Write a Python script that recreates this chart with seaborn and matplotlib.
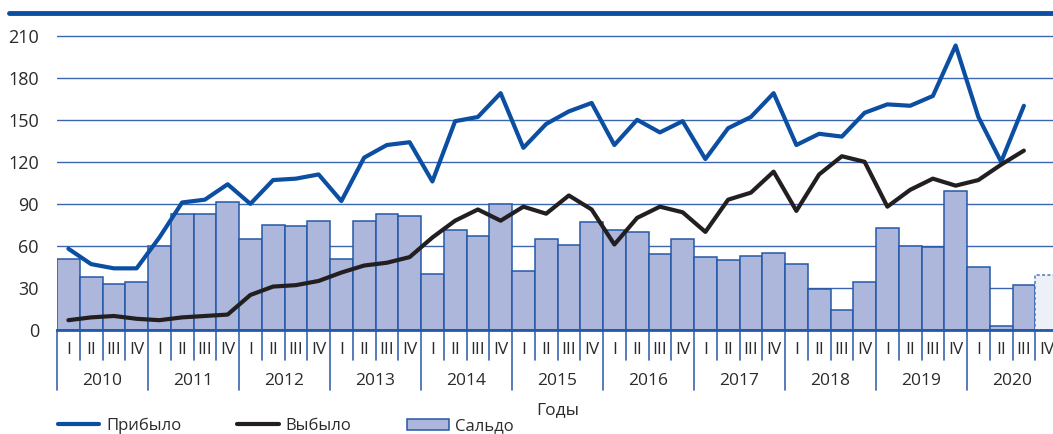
import matplotlib
matplotlib.use("Agg")
import matplotlib.pyplot as plt
import seaborn as sns
import pandas as pd
from matplotlib.lines import Line2D
from matplotlib.patches import Patch

# Quarterly data, 2010 Q1 .. 2020 Q4
years = [2010, 2011, 2012, 2013, 2014, 2015, 2016, 2017, 2018, 2019, 2020]
quarters = ["I", "II", "III", "IV"]

arrived = [58, 47, 44, 44, 66, 91, 93, 104, 90, 107, 108, 111,
           92, 123, 132, 134, 106, 149, 152, 169, 130, 147, 156, 162,
           132, 150, 141, 149, 122, 144, 152, 169, 132, 140, 138, 155,
           161, 160, 167, 203, 152, 120, 160]
departed = [7, 9, 10, 8, 7, 9, 10, 11, 25, 31, 32, 35,
            41, 46, 48, 52, 66, 78, 86, 78, 88, 83, 96, 86,
            61, 80, 88, 84, 70, 93, 98, 113, 85, 111, 124, 120,
            88, 100, 108, 103, 107, 118, 128]
balance = [51, 38, 33, 34, 60, 83, 83, 91, 65, 75, 74, 78,
           51, 78, 83, 81, 40, 71, 67, 90, 42, 65, 61, 77,
           71, 70, 54, 65, 52, 50, 53, 55, 47, 29, 14, 34,
           73, 60, 59, 99, 45, 3, 32, 39]

BLUE = "#0c4ea2"
GRID = "#3a66b0"
BAR = "#adb7dc"
EDGE = "#2458a8"
TEXT = "#2b2b2b"

sns.set_style("white")
plt.rcParams['font.family'] = ['Open Sans', 'DejaVu Sans']

W, H = 1053, 434
fig = plt.figure(figsize=(W / 100, H / 100), dpi=100)
ax = fig.add_axes([57 / W, 104 / H, 1001 / W, 295 / H])

labels = [f"{y} {q}" for y in years for q in quarters]
df_bar = pd.DataFrame({"q": labels, "v": balance})
sns.barplot(data=df_bar, x="q", y="v", width=1.0, color=BAR, saturation=1,
            edgecolor=EDGE, linewidth=1.1, ax=ax, zorder=2)
# last quarter: preliminary estimate
last = ax.patches[-1]
last.set_facecolor("#eef0f8")
last.set_edgecolor("#4a78bf")
last.set_linestyle((0, (2, 1.5)))

sns.lineplot(x=list(range(len(arrived))), y=arrived, color=BLUE, lw=3,
             ax=ax, zorder=4)
sns.lineplot(x=list(range(len(departed))), y=departed, color="#231f20", lw=3,
             ax=ax, zorder=4)

ax.set_xlim(-0.5, len(balance) - 0.5)
ax.set_ylim(0, 210.5)
ax.set_yticks(range(0, 211, 30))
ax.yaxis.grid(True, color=GRID, lw=1)
ax.set_axisbelow(True)
ax.set_xticks([])
ax.set_xlabel("")
ax.set_ylabel("")
ax.tick_params(axis="y", length=0, pad=13, labelsize=13, labelcolor=TEXT)
for s in ["left", "right", "top"]:
    ax.spines[s].set_visible(False)
ax.spines["bottom"].set_color(EDGE)
ax.spines["bottom"].set_linewidth(2)
ax.spines["bottom"].set_zorder(5)

# quarter / year axis
tr = ax.get_xaxis_transform()
for k in range(len(balance) + 1):
    low = -0.205 if k % 4 == 0 else -0.102
    ax.plot([k - 0.5, k - 0.5], [0, low], transform=tr, color=GRID,
            lw=1.2, clip_on=False)
for i, lab in enumerate(labels):
    ax.text(i, -0.068, lab.split()[1], transform=tr, ha="center", va="center",
            fontsize=12.5, color=TEXT)
for j, y in enumerate(years):
    ax.text(j * 4 + 1.5, -0.174, str(y), transform=tr, ha="center",
            va="center", fontsize=12.5, color=TEXT)

fig.add_artist(Line2D([9 / W, 1], [1 - 12.5 / H] * 2, transform=fig.transFigure,
                      color=BLUE, lw=3.5))
fig.text(558 / W, 1 - 410 / H, "Годы", ha="center", va="center",
         fontsize=12.5, color=TEXT)

handles = [Line2D([], [], color=BLUE, lw=3),
           Line2D([], [], color="#231f20", lw=3),
           Patch(facecolor=BAR, edgecolor=EDGE, lw=1.1)]
fig.legend(handles, ["Прибыло", "Выбыло", "Сальдо"], loc="center left",
           bbox_to_anchor=(51 / W, 1 - 426 / H), ncol=3, frameon=False,
           fontsize=12, handlelength=2.5, handletextpad=0.4,
           columnspacing=3.35, labelcolor=TEXT, borderaxespad=0)

fig.savefig("out.png", dpi=100)
